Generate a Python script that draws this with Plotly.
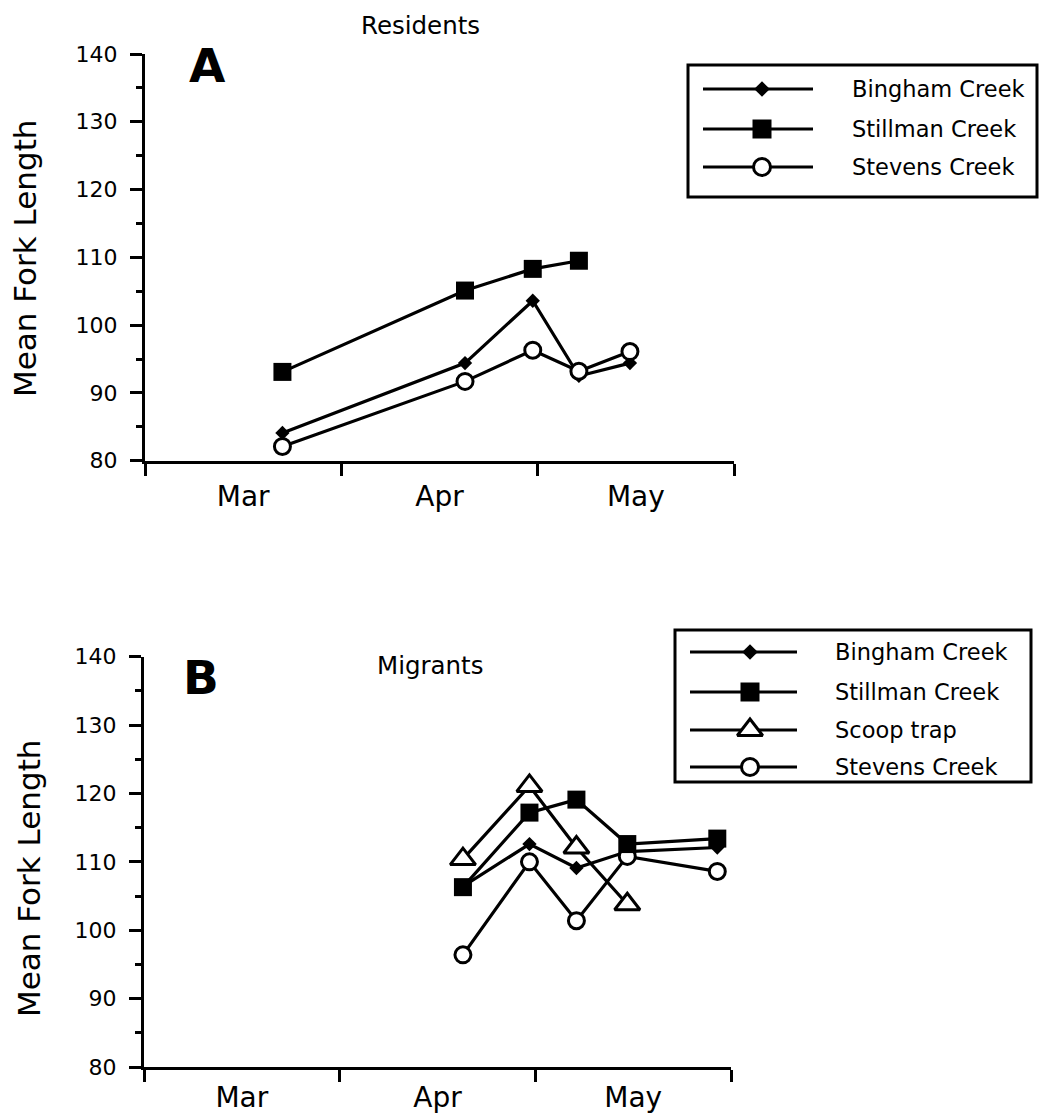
import plotly.graph_objects as go

# ---- data -------------------------------------------------------------
# x positions are in months from 1 March (0 = 1 Mar, 1 = 1 Apr, 2 = 1 May)
month_edges = [0, 1, 2, 3]
month_mid = [0.5, 1.5, 2.5]
month_labels = ["Mar", "Apr", "May"]

res_x = [0.70, 1.63, 1.975, 2.21, 2.47]
res_bingham = [84.1, 94.4, 103.6, 92.5, 94.4]
res_stillman = [93.1, 105.1, 108.3, 109.5]
res_stevens = [82.1, 91.7, 96.3, 93.2, 96.1]

mig_x = [1.63, 1.97, 2.21, 2.47, 2.93]
mig_bingham = [106.4, 112.6, 109.1, 111.5, 112.1]
mig_stillman = [106.3, 117.2, 119.1, 112.6, 113.4]
mig_scoop = [110.4, 121.1, 112.1, 103.8]
mig_stevens = [96.4, 110.0, 101.4, 110.8, 108.6]

y_ticks = [80, 90, 100, 110, 120, 130, 140]

# ---- figure geometry (pixels) -----------------------------------------
W, H = 1039, 1118
FONT = "DejaVu Sans"
BLACK = "black"

def xdom(x0, x1):
    return [x0 / W, x1 / W]

def ydom(ytop, ybot):
    return [(H - ybot) / H, (H - ytop) / H]

# marker styles per site
STY = {
    "Bingham Creek": dict(symbol="diamond", color=BLACK, line=dict(width=0)),
    "Stillman Creek": dict(symbol="square", color=BLACK, line=dict(width=0)),
    "Scoop trap": dict(symbol="triangle-up", color="white",
                       line=dict(width=3, color=BLACK)),
    "Stevens Creek": dict(symbol="circle", color="white",
                          line=dict(width=3, color=BLACK)),
}
SIZE = {"Bingham Creek": 11, "Stillman Creek": 18, "Scoop trap": 22, "Stevens Creek": 16}
LEG_SIZE = {"Bingham Creek": 12, "Stillman Creek": 19, "Scoop trap": 22, "Stevens Creek": 17}

fig = go.Figure()

def series(x, y, name, xa, ya):
    fig.add_trace(go.Scatter(
        x=x[:len(y)], y=y, mode="lines+markers", name=name,
        line=dict(color=BLACK, width=3.2),
        marker=dict(STY[name], size=SIZE[name], opacity=1),
        xaxis=xa, yaxis=ya, cliponaxis=False, showlegend=False))

# Panel A: residents
series(res_x, res_stillman, "Stillman Creek", "x", "y")
series(res_x, res_bingham, "Bingham Creek", "x", "y")
series(res_x, res_stevens, "Stevens Creek", "x", "y")

# Panel B: migrants
series(mig_x, mig_bingham, "Bingham Creek", "x2", "y2")
series(mig_x, mig_stevens, "Stevens Creek", "x2", "y2")
series(mig_x, mig_scoop, "Scoop trap", "x2", "y2")
series(mig_x, mig_stillman, "Stillman Creek", "x2", "y2")

# ---- legend keys drawn on a pixel-space overlay axis -------------------
def legend_block(names, rows, lx0, lx1, mx, tx, box):
    fig.add_shape(type="rect", xref="x3", yref="y3",
                  x0=box[0], y0=box[1], x1=box[2], y1=box[3],
                  line=dict(color=BLACK, width=3), layer="below")
    for name, ry in zip(names, rows):
        fig.add_trace(go.Scatter(
            x=[lx0, lx1], y=[ry, ry], mode="lines",
            line=dict(color=BLACK, width=3.2),
            xaxis="x3", yaxis="y3", showlegend=False, hoverinfo="skip"))
        fig.add_trace(go.Scatter(
            x=[mx], y=[ry], mode="markers",
            marker=dict(STY[name], size=LEG_SIZE[name], opacity=1),
            xaxis="x3", yaxis="y3", showlegend=False, hoverinfo="skip"))
        fig.add_annotation(x=tx, y=ry, xref="x3", yref="y3", text=name,
                           showarrow=False, xanchor="left", yanchor="middle",
                           font=dict(family=FONT, size=22.5, color=BLACK))

legend_block(["Bingham Creek", "Stillman Creek", "Stevens Creek"],
             [89, 129, 167], 703, 813, 762, 850, (688, 65, 1037, 197))
legend_block(["Bingham Creek", "Stillman Creek", "Scoop trap", "Stevens Creek"],
             [652, 692, 730, 767], 690, 797, 750, 833, (675, 630, 1031, 782))

# ---- axes ----------------------------------------------------------------
def xaxis_cfg(dom, anchor, standoff):
    return dict(domain=dom, anchor=anchor, range=[0, 3], showgrid=False,
                zeroline=False, showline=True, linecolor=BLACK, linewidth=3,
                automargin=False,
                tickmode="array", tickvals=month_mid, ticktext=month_labels,
                ticks="", ticklabelstandoff=standoff,
                tickfont=dict(family=FONT, size=28, color=BLACK),
                minor=dict(tickmode="array", tickvals=month_edges, ticks="outside",
                           ticklen=12, tickwidth=3, tickcolor=BLACK, showgrid=False))

def yaxis_cfg(dom, anchor):
    return dict(domain=dom, anchor=anchor, range=[80, 140], showgrid=False,
                zeroline=False, showline=True, linecolor=BLACK, linewidth=3,
                automargin=False,
                tickmode="array", tickvals=y_ticks, ticks="outside",
                ticklen=12, tickwidth=3, tickcolor=BLACK, ticklabelstandoff=8,
                tickfont=dict(family=FONT, size=22, color=BLACK),
                minor=dict(dtick=5, ticks="outside", ticklen=6, tickwidth=3,
                           tickcolor=BLACK, showgrid=False))

fig.update_layout(
    width=W, height=H, margin=dict(l=0, r=0, t=0, b=0, pad=0),
    paper_bgcolor="white", plot_bgcolor="rgba(0,0,0,0)",
    font=dict(family=FONT, color=BLACK),
    xaxis=xaxis_cfg(xdom(145, 734), "y", 9),
    yaxis=yaxis_cfg(ydom(54, 460.7), "x"),
    xaxis2=xaxis_cfg(xdom(144, 731), "y2", 3),
    yaxis2=yaxis_cfg(ydom(656.7, 1067), "x2"),
    xaxis3=dict(domain=[0, 1], range=[0, W], visible=False, anchor="y3",
                automargin=False),
    yaxis3=dict(domain=[0, 1], range=[H, 0], visible=False, anchor="x3",
                automargin=False),
    showlegend=False,
)

# ---- titles and labels -----------------------------------------------------
def text(x, y, s, size, bold=False, angle=0):
    fig.add_annotation(x=x, y=y, xref="x3", yref="y3", showarrow=False,
                       text=f"<b>{s}</b>" if bold else s, textangle=angle,
                       xanchor="center", yanchor="middle",
                       font=dict(family=FONT, size=size, color=BLACK))

text(420, 25, "Residents", 24.5)
text(207, 65, "A", 47, bold=True)
text(25, 258, "Mean Fork Length", 31, angle=-90)

text(430, 665, "Migrants", 24.5)
text(201, 677, "B", 47, bold=True)
text(29, 878, "Mean Fork Length", 31, angle=-90)

fig.write_html("out.html")
